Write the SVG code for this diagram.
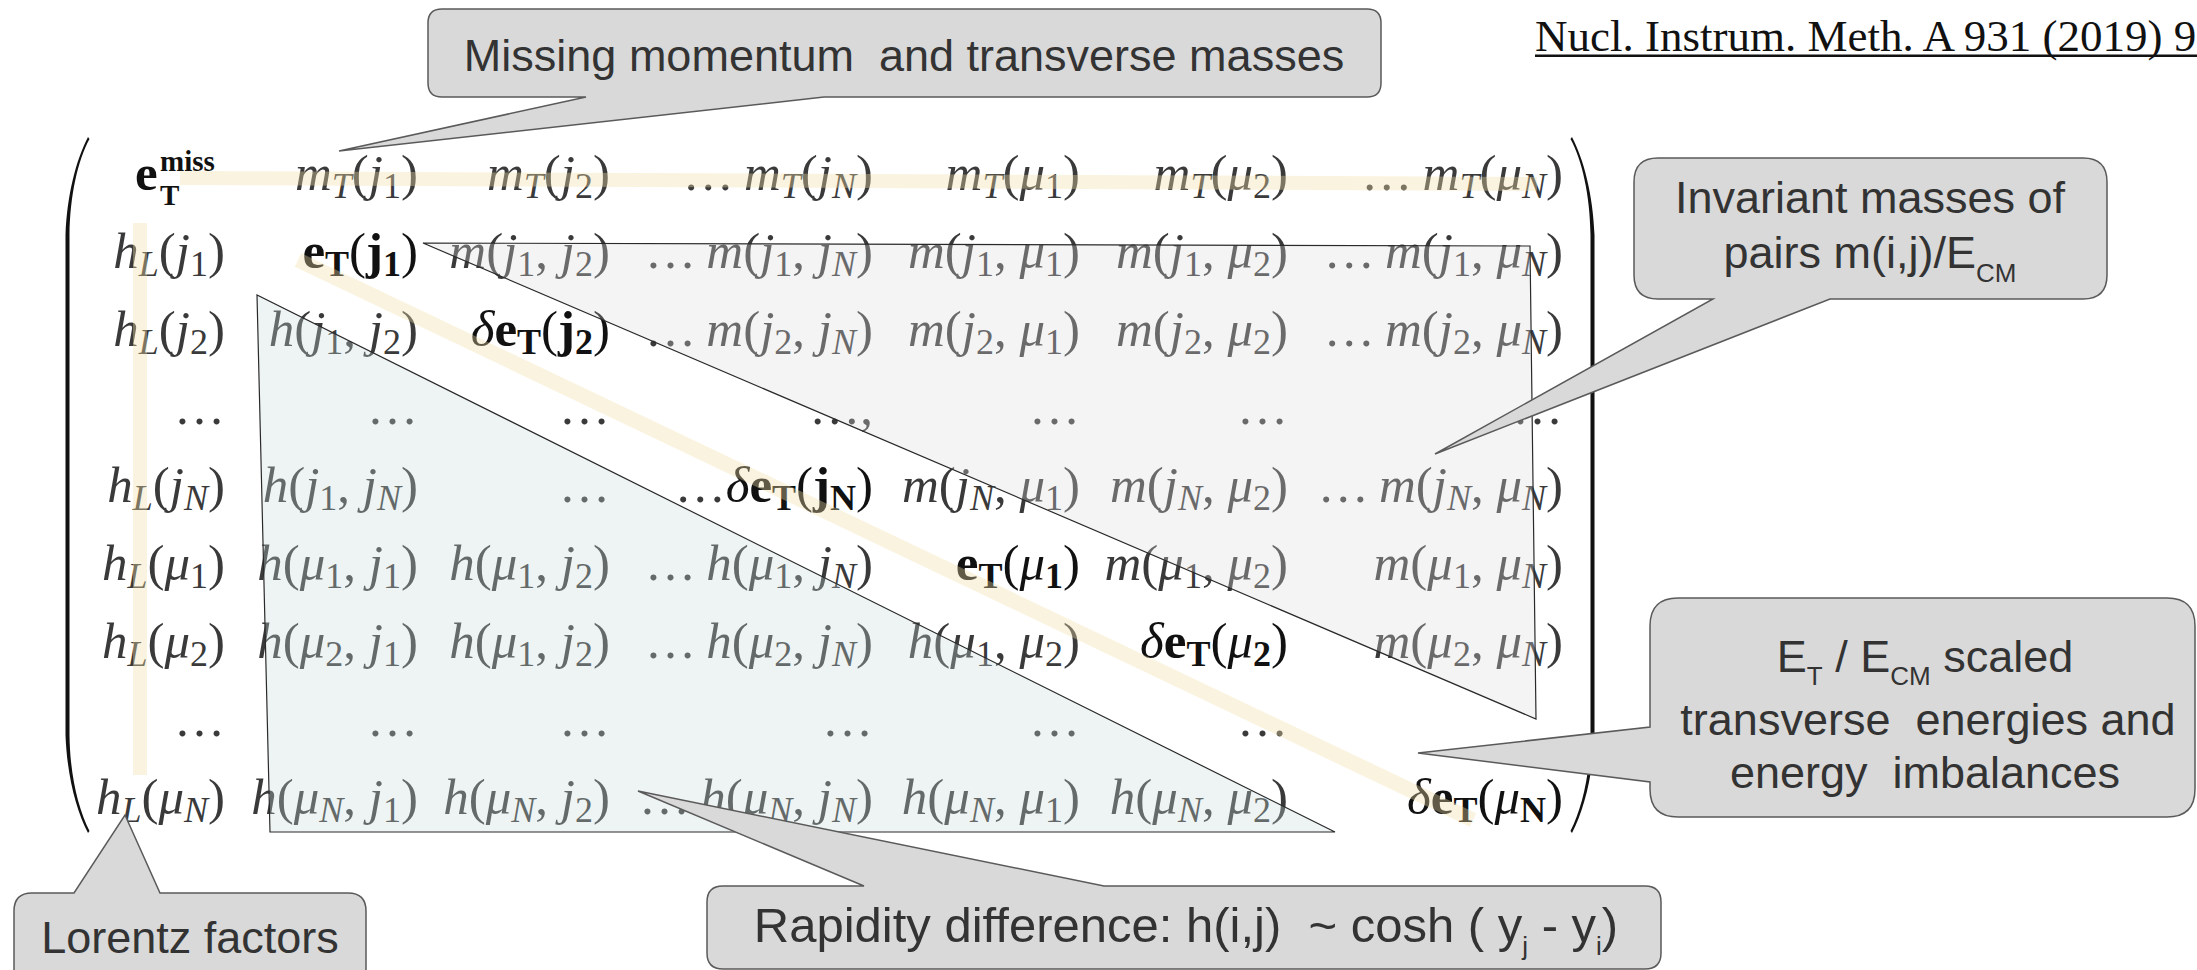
<svg xmlns="http://www.w3.org/2000/svg" width="2197" height="970" viewBox="0 0 2197 970">
<style>
.m{font-family:"Liberation Serif","Times New Roman",serif;font-size:51px;fill:#3a3a3a;text-anchor:end}
.i{font-style:italic}
.s{font-size:36px}
.b{font-weight:bold}
.k{fill:#111}
.c{font-family:"Liberation Sans",Arial,sans-serif;font-size:45px;fill:#333;text-anchor:middle}
.cs{font-size:26px}
.box{fill:#d9d9d9;stroke:#5a5a5a;stroke-width:1.5}
.hl{fill:none;stroke:#f2dfa6;stroke-opacity:0.36;stroke-linecap:butt}
.tri{fill:none;stroke:#2a2a2a;stroke-width:1.2}
</style>
<rect width="2197" height="970" fill="#fff"/>

<g id="matrix">
<!-- row 1 -->
<text class="m k b" style="text-anchor:start"><tspan x="135" y="190">e</tspan><tspan style="font-size:29px" x="160" y="205">T</tspan><tspan style="font-size:29px" x="160" y="171">miss</tspan></text>
<text class="m" x="418" y="190"><tspan class="i">m</tspan><tspan class="s i" dy="8">T</tspan><tspan dy="-8">(</tspan><tspan class="i">j</tspan><tspan class="s" dy="8">1</tspan><tspan dy="-8">)</tspan></text>
<text class="m" x="610" y="190"><tspan class="i">m</tspan><tspan class="s i" dy="8">T</tspan><tspan dy="-8">(</tspan><tspan class="i">j</tspan><tspan class="s" dy="8">2</tspan><tspan dy="-8">)</tspan></text>
<text class="m" x="873" y="190">&#8230;&#8201;<tspan class="i">m</tspan><tspan class="s i" dy="8">T</tspan><tspan dy="-8">(</tspan><tspan class="i">j</tspan><tspan class="s i" dy="8">N</tspan><tspan dy="-8">)</tspan></text>
<text class="m" x="1080" y="190"><tspan class="i">m</tspan><tspan class="s i" dy="8">T</tspan><tspan dy="-8">(</tspan><tspan class="i">μ</tspan><tspan class="s" dy="8">1</tspan><tspan dy="-8">)</tspan></text>
<text class="m" x="1288" y="190"><tspan class="i">m</tspan><tspan class="s i" dy="8">T</tspan><tspan dy="-8">(</tspan><tspan class="i">μ</tspan><tspan class="s" dy="8">2</tspan><tspan dy="-8">)</tspan></text>
<text class="m" x="1563" y="190">&#8230;&#8201;<tspan class="i">m</tspan><tspan class="s i" dy="8">T</tspan><tspan dy="-8">(</tspan><tspan class="i">μ</tspan><tspan class="s i" dy="8">N</tspan><tspan dy="-8">)</tspan></text>
<!-- row 2 -->
<text class="m" x="225" y="268"><tspan class="i">h</tspan><tspan class="s i" dy="8">L</tspan><tspan dy="-8">(</tspan><tspan class="i">j</tspan><tspan class="s" dy="8">1</tspan><tspan dy="-8">)</tspan></text>
<text class="m k" x="418" y="268"><tspan class="b">e</tspan><tspan class="s b" dy="8">T</tspan><tspan dy="-8">(</tspan><tspan class="b">j</tspan><tspan class="s b" dy="8">1</tspan><tspan dy="-8">)</tspan></text>
<text class="m" x="610" y="268"><tspan class="i">m</tspan>(<tspan class="i">j</tspan><tspan class="s" dy="8">1</tspan><tspan dy="-8">, </tspan><tspan class="i">j</tspan><tspan class="s" dy="8">2</tspan><tspan dy="-8">)</tspan></text>
<text class="m" x="873" y="268">&#8230;&#8201;<tspan class="i">m</tspan>(<tspan class="i">j</tspan><tspan class="s" dy="8">1</tspan><tspan dy="-8">, </tspan><tspan class="i">j</tspan><tspan class="s i" dy="8">N</tspan><tspan dy="-8">)</tspan></text>
<text class="m" x="1080" y="268"><tspan class="i">m</tspan>(<tspan class="i">j</tspan><tspan class="s" dy="8">1</tspan><tspan dy="-8">, </tspan><tspan class="i">μ</tspan><tspan class="s" dy="8">1</tspan><tspan dy="-8">)</tspan></text>
<text class="m" x="1288" y="268"><tspan class="i">m</tspan>(<tspan class="i">j</tspan><tspan class="s" dy="8">1</tspan><tspan dy="-8">, </tspan><tspan class="i">μ</tspan><tspan class="s" dy="8">2</tspan><tspan dy="-8">)</tspan></text>
<text class="m" x="1563" y="268">&#8230;&#8201;<tspan class="i">m</tspan>(<tspan class="i">j</tspan><tspan class="s" dy="8">1</tspan><tspan dy="-8">, </tspan><tspan class="i">μ</tspan><tspan class="s i" dy="8">N</tspan><tspan dy="-8">)</tspan></text>
<!-- row 3 -->
<text class="m" x="225" y="346"><tspan class="i">h</tspan><tspan class="s i" dy="8">L</tspan><tspan dy="-8">(</tspan><tspan class="i">j</tspan><tspan class="s" dy="8">2</tspan><tspan dy="-8">)</tspan></text>
<text class="m" x="418" y="346"><tspan class="i">h</tspan>(<tspan class="i">j</tspan><tspan class="s" dy="8">1</tspan><tspan dy="-8">, </tspan><tspan class="i">j</tspan><tspan class="s" dy="8">2</tspan><tspan dy="-8">)</tspan></text>
<text class="m k" x="610" y="346"><tspan class="i">δ</tspan><tspan class="b">e</tspan><tspan class="s b" dy="8">T</tspan><tspan dy="-8">(</tspan><tspan class="b">j</tspan><tspan class="s b" dy="8">2</tspan><tspan dy="-8">)</tspan></text>
<text class="m" x="873" y="346">&#8230;&#8201;<tspan class="i">m</tspan>(<tspan class="i">j</tspan><tspan class="s" dy="8">2</tspan><tspan dy="-8">, </tspan><tspan class="i">j</tspan><tspan class="s i" dy="8">N</tspan><tspan dy="-8">)</tspan></text>
<text class="m" x="1080" y="346"><tspan class="i">m</tspan>(<tspan class="i">j</tspan><tspan class="s" dy="8">2</tspan><tspan dy="-8">, </tspan><tspan class="i">μ</tspan><tspan class="s" dy="8">1</tspan><tspan dy="-8">)</tspan></text>
<text class="m" x="1288" y="346"><tspan class="i">m</tspan>(<tspan class="i">j</tspan><tspan class="s" dy="8">2</tspan><tspan dy="-8">, </tspan><tspan class="i">μ</tspan><tspan class="s" dy="8">2</tspan><tspan dy="-8">)</tspan></text>
<text class="m" x="1563" y="346">&#8230;&#8201;<tspan class="i">m</tspan>(<tspan class="i">j</tspan><tspan class="s" dy="8">2</tspan><tspan dy="-8">, </tspan><tspan class="i">μ</tspan><tspan class="s i" dy="8">N</tspan><tspan dy="-8">)</tspan></text>
<!-- row 4 -->
<text class="m" x="225" y="424">&#8230;</text>
<text class="m" x="418" y="424">&#8230;</text>
<text class="m" x="610" y="424">&#8230;</text>
<text class="m" x="873" y="424">&#8230;,</text>
<text class="m" x="1080" y="424">&#8230;</text>
<text class="m" x="1288" y="424">&#8230;</text>
<text class="m" x="1563" y="424">&#8230;</text>
<!-- row 5 -->
<text class="m" x="225" y="502"><tspan class="i">h</tspan><tspan class="s i" dy="8">L</tspan><tspan dy="-8">(</tspan><tspan class="i">j</tspan><tspan class="s i" dy="8">N</tspan><tspan dy="-8">)</tspan></text>
<text class="m" x="418" y="502"><tspan class="i">h</tspan>(<tspan class="i">j</tspan><tspan class="s" dy="8">1</tspan><tspan dy="-8">, </tspan><tspan class="i">j</tspan><tspan class="s i" dy="8">N</tspan><tspan dy="-8">)</tspan></text>
<text class="m" x="610" y="502">&#8230;</text>
<text class="m k" x="873" y="502"><tspan fill="#3a3a3a">&#8230;</tspan><tspan class="i">δ</tspan><tspan class="b">e</tspan><tspan class="s b" dy="8">T</tspan><tspan dy="-8">(</tspan><tspan class="b">j</tspan><tspan class="s b" dy="8">N</tspan><tspan dy="-8">)</tspan></text>
<text class="m" x="1080" y="502"><tspan class="i">m</tspan>(<tspan class="i">j</tspan><tspan class="s i" dy="8">N</tspan><tspan dy="-8">, </tspan><tspan class="i">μ</tspan><tspan class="s" dy="8">1</tspan><tspan dy="-8">)</tspan></text>
<text class="m" x="1288" y="502"><tspan class="i">m</tspan>(<tspan class="i">j</tspan><tspan class="s i" dy="8">N</tspan><tspan dy="-8">, </tspan><tspan class="i">μ</tspan><tspan class="s" dy="8">2</tspan><tspan dy="-8">)</tspan></text>
<text class="m" x="1563" y="502">&#8230;&#8201;<tspan class="i">m</tspan>(<tspan class="i">j</tspan><tspan class="s i" dy="8">N</tspan><tspan dy="-8">, </tspan><tspan class="i">μ</tspan><tspan class="s i" dy="8">N</tspan><tspan dy="-8">)</tspan></text>
<!-- row 6 -->
<text class="m" x="225" y="580"><tspan class="i">h</tspan><tspan class="s i" dy="8">L</tspan><tspan dy="-8">(</tspan><tspan class="i">μ</tspan><tspan class="s" dy="8">1</tspan><tspan dy="-8">)</tspan></text>
<text class="m" x="418" y="580"><tspan class="i">h</tspan>(<tspan class="i">μ</tspan><tspan class="s" dy="8">1</tspan><tspan dy="-8">, </tspan><tspan class="i">j</tspan><tspan class="s" dy="8">1</tspan><tspan dy="-8">)</tspan></text>
<text class="m" x="610" y="580"><tspan class="i">h</tspan>(<tspan class="i">μ</tspan><tspan class="s" dy="8">1</tspan><tspan dy="-8">, </tspan><tspan class="i">j</tspan><tspan class="s" dy="8">2</tspan><tspan dy="-8">)</tspan></text>
<text class="m" x="873" y="580">&#8230;&#8201;<tspan class="i">h</tspan>(<tspan class="i">μ</tspan><tspan class="s" dy="8">1</tspan><tspan dy="-8">, </tspan><tspan class="i">j</tspan><tspan class="s i" dy="8">N</tspan><tspan dy="-8">)</tspan></text>
<text class="m k" x="1080" y="580"><tspan class="b">e</tspan><tspan class="s b" dy="8">T</tspan><tspan dy="-8">(</tspan><tspan class="i">μ</tspan><tspan class="s b" dy="8">1</tspan><tspan dy="-8">)</tspan></text>
<text class="m" x="1288" y="580"><tspan class="i">m</tspan>(<tspan class="i">μ</tspan><tspan class="s" dy="8">1</tspan><tspan dy="-8">, </tspan><tspan class="i">μ</tspan><tspan class="s" dy="8">2</tspan><tspan dy="-8">)</tspan></text>
<text class="m" x="1563" y="580"><tspan class="i">m</tspan>(<tspan class="i">μ</tspan><tspan class="s" dy="8">1</tspan><tspan dy="-8">, </tspan><tspan class="i">μ</tspan><tspan class="s i" dy="8">N</tspan><tspan dy="-8">)</tspan></text>
<!-- row 7 -->
<text class="m" x="225" y="658"><tspan class="i">h</tspan><tspan class="s i" dy="8">L</tspan><tspan dy="-8">(</tspan><tspan class="i">μ</tspan><tspan class="s" dy="8">2</tspan><tspan dy="-8">)</tspan></text>
<text class="m" x="418" y="658"><tspan class="i">h</tspan>(<tspan class="i">μ</tspan><tspan class="s" dy="8">2</tspan><tspan dy="-8">, </tspan><tspan class="i">j</tspan><tspan class="s" dy="8">1</tspan><tspan dy="-8">)</tspan></text>
<text class="m" x="610" y="658"><tspan class="i">h</tspan>(<tspan class="i">μ</tspan><tspan class="s" dy="8">1</tspan><tspan dy="-8">, </tspan><tspan class="i">j</tspan><tspan class="s" dy="8">2</tspan><tspan dy="-8">)</tspan></text>
<text class="m" x="873" y="658">&#8230;&#8201;<tspan class="i">h</tspan>(<tspan class="i">μ</tspan><tspan class="s" dy="8">2</tspan><tspan dy="-8">, </tspan><tspan class="i">j</tspan><tspan class="s i" dy="8">N</tspan><tspan dy="-8">)</tspan></text>
<text class="m" x="1080" y="658"><tspan class="i">h</tspan>(<tspan class="i">μ</tspan><tspan class="s" dy="8">1</tspan><tspan dy="-8">, </tspan><tspan class="i">μ</tspan><tspan class="s" dy="8">2</tspan><tspan dy="-8">)</tspan></text>
<text class="m k" x="1288" y="658"><tspan class="i">δ</tspan><tspan class="b">e</tspan><tspan class="s b" dy="8">T</tspan><tspan dy="-8">(</tspan><tspan class="i">μ</tspan><tspan class="s b" dy="8">2</tspan><tspan dy="-8">)</tspan></text>
<text class="m" x="1563" y="658"><tspan class="i">m</tspan>(<tspan class="i">μ</tspan><tspan class="s" dy="8">2</tspan><tspan dy="-8">, </tspan><tspan class="i">μ</tspan><tspan class="s i" dy="8">N</tspan><tspan dy="-8">)</tspan></text>
<!-- row 8 -->
<text class="m" x="225" y="736">&#8230;</text>
<text class="m" x="418" y="736">&#8230;</text>
<text class="m" x="610" y="736">&#8230;</text>
<text class="m" x="873" y="736">&#8230;</text>
<text class="m" x="1080" y="736">&#8230;</text>
<text class="m" x="1288" y="736">&#8230;</text>
<!-- row 9 -->
<text class="m" x="225" y="814"><tspan class="i">h</tspan><tspan class="s i" dy="8">L</tspan><tspan dy="-8">(</tspan><tspan class="i">μ</tspan><tspan class="s i" dy="8">N</tspan><tspan dy="-8">)</tspan></text>
<text class="m" x="418" y="814"><tspan class="i">h</tspan>(<tspan class="i">μ</tspan><tspan class="s i" dy="8">N</tspan><tspan dy="-8">, </tspan><tspan class="i">j</tspan><tspan class="s" dy="8">1</tspan><tspan dy="-8">)</tspan></text>
<text class="m" x="610" y="814"><tspan class="i">h</tspan>(<tspan class="i">μ</tspan><tspan class="s i" dy="8">N</tspan><tspan dy="-8">, </tspan><tspan class="i">j</tspan><tspan class="s" dy="8">2</tspan><tspan dy="-8">)</tspan></text>
<text class="m" x="873" y="814">&#8230;&#8201;<tspan class="i">h</tspan>(<tspan class="i">μ</tspan><tspan class="s i" dy="8">N</tspan><tspan dy="-8">, </tspan><tspan class="i">j</tspan><tspan class="s i" dy="8">N</tspan><tspan dy="-8">)</tspan></text>
<text class="m" x="1080" y="814"><tspan class="i">h</tspan>(<tspan class="i">μ</tspan><tspan class="s i" dy="8">N</tspan><tspan dy="-8">, </tspan><tspan class="i">μ</tspan><tspan class="s" dy="8">1</tspan><tspan dy="-8">)</tspan></text>
<text class="m" x="1288" y="814"><tspan class="i">h</tspan>(<tspan class="i">μ</tspan><tspan class="s i" dy="8">N</tspan><tspan dy="-8">, </tspan><tspan class="i">μ</tspan><tspan class="s" dy="8">2</tspan><tspan dy="-8">)</tspan></text>
<text class="m k" x="1563" y="814"><tspan class="i">δ</tspan><tspan class="b">e</tspan><tspan class="s b" dy="8">T</tspan><tspan dy="-8">(</tspan><tspan class="i">μ</tspan><tspan class="s b" dy="8">N</tspan><tspan dy="-8">)</tspan></text>
</g>

<g id="regions">
<polygon points="423,243 1530,246 1536,719" fill="#dadade" fill-opacity="0.3"/>
<polygon points="257,295 270,832 1335,832" fill="#c6dad7" fill-opacity="0.3"/>
<line class="hl" x1="180" y1="178" x2="1537" y2="184" stroke-width="14"/>
<line class="hl" x1="140" y1="223" x2="140" y2="775" stroke-width="14"/>
<line class="hl" x1="298" y1="260" x2="1473" y2="820" stroke-width="15"/>
<polygon class="tri" points="423,243 1530,246 1536,719"/>
<polygon class="tri" points="257,295 270,832 1335,832"/>
</g>

<g id="brackets" fill="#111">
<path d="M88,137 C76,160 67,195 65.5,235 L65.5,735 C67,775 76,810 88,833 L89.5,831 C78,808 70,775 69.5,735 L69.5,235 C70,195 78,160 89.5,139 Z"/>
<path d="M1572,137 C1584,160 1593,195 1594.5,235 L1594.5,735 C1593,775 1584,810 1572,833 L1570.5,831 C1582,808 1590,775 1590.5,735 L1590.5,235 C1590,195 1582,160 1570.5,139 Z"/>
</g>

<g id="citation">
<text x="1535" y="51" font-family="Liberation Serif,'Times New Roman',serif" font-size="45" fill="#111">Nucl. Instrum. Meth. A 931 (2019) 9</text>
<rect x="1535" y="54.5" width="670" height="2.5" fill="#111"/>
</g>

<g id="callout-missing">
<path class="box" d="M442,9 H1367 Q1381,9 1381,23 V83 Q1381,97 1367,97 H824 L339,151 L586,97 H442 Q428,97 428,83 V23 Q428,9 442,9 Z"/>
<text class="c" x="904" y="71" xml:space="preserve">Missing momentum  and transverse masses</text>
</g>

<g id="callout-invariant">
<path class="box" d="M1658,158 H2083 Q2107,158 2107,182 V275 Q2107,299 2083,299 H1830 L1435,454 L1713,299 H1658 Q1634,299 1634,275 V182 Q1634,158 1658,158 Z"/>
<text class="c" x="1870" y="213">Invariant masses of</text>
<text class="c" x="1870" y="268">pairs m(i,j)/E<tspan class="cs" dy="14">CM</tspan></text>
</g>

<g id="callout-energies">
<path class="box" d="M1678,598 H2167 Q2195,598 2195,626 V789 Q2195,817 2167,817 H1678 Q1650,817 1650,789 V782 L1418,753 L1650,727 V626 Q1650,598 1678,598 Z"/>
<text class="c" x="1925" y="672">E<tspan class="cs" dy="13">T</tspan><tspan dy="-13"> / E</tspan><tspan class="cs" dy="13">CM</tspan><tspan dy="-13"> scaled</tspan></text>
<text class="c" x="1928" y="735" xml:space="preserve">transverse  energies and</text>
<text class="c" x="1925" y="788" xml:space="preserve">energy  imbalances</text>
</g>

<g id="callout-lorentz">
<path class="box" d="M32,893 H74 L125,815 L160,893 H348 Q366,893 366,911 V995 H14 V911 Q14,893 32,893 Z"/>
<text class="c" x="190" y="953">Lorentz factors</text>
</g>

<g id="callout-rapidity">
<path class="box" d="M723,886 H864 L638,791 L1104,886 H1645 Q1661,886 1661,902 V953 Q1661,969 1645,969 H723 Q707,969 707,953 V902 Q707,886 723,886 Z"/>
<text class="c" x="1186" y="942" style="font-size:49px" xml:space="preserve">Rapidity difference: h(i,j)  ~ cosh ( y<tspan class="cs" dy="13">j</tspan><tspan dy="-13"> - y</tspan><tspan class="cs" dy="13">i</tspan><tspan dy="-13">)</tspan></text>
</g>
</svg>
